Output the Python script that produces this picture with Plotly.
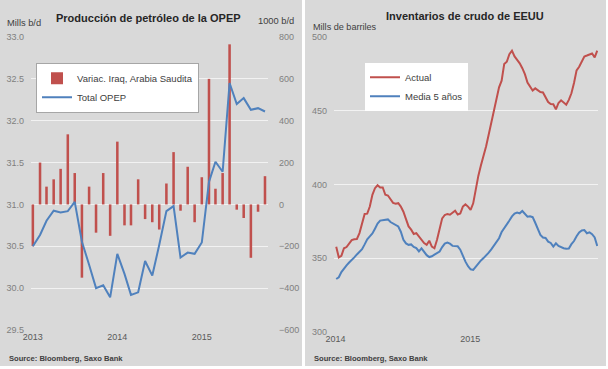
import pandas as pd
import plotly.graph_objects as go

# ---------------- Left chart data (monthly) ----------------
opep_months = pd.date_range("2013-01-01", periods=34, freq="MS")
variac_iraq_arabia = [-200, 200, 85, 120, 170, 335, 150, -350, 85, -135, 150, -150,
                      300, -100, -100, 120, -70, -85, -120, 100, 250, -30, 180, -85,
                      130, 600, 75, 150, 765, -25, -65, -255, -35, 135]
total_opep = [30.5, 30.635, 30.805, 30.925, 30.905, 30.92, 31.03, 30.555, 30.28, 30.0,
              30.035, 29.89, 30.41, 30.17, 29.92, 29.95, 30.325, 30.15, 30.515, 30.92,
              30.98, 30.365, 30.425, 30.41, 30.545, 31.27, 31.51, 31.39, 32.45, 32.2,
              32.27, 32.13, 32.15, 32.11]

# ---------------- Right chart data (weekly) ----------------
inv_weeks = pd.date_range("2014-01-03", periods=102, freq="7D")
actual = [357.7, 350.5, 351.5, 356.7, 357.5, 360, 362.2, 362.8, 363, 367,
          374, 380, 380.2, 385, 393, 397.5, 399.5, 398, 398, 393,
          392.5, 390, 387.5, 387, 387.3, 385, 381.5, 376.5, 371.5, 369.3,
          366.4, 367, 364.5, 362, 360.2, 359, 361.8, 357.8, 356.7, 362.5,
          371, 377, 379.3, 380, 379.5, 380.8, 382.2, 379.6, 380.3, 385,
          386.5, 385, 382.7, 387.2, 398, 406, 413, 419, 426, 434,
          441.5, 449, 458, 466, 470.5, 481.9, 483.4, 488.5, 490.9, 487,
          484.7, 482.3, 479, 475, 469.3, 466.5, 463.8, 465.3, 464, 462.8,
          462.5, 459, 456, 454.7, 454.5, 451.1, 455.4, 457.2, 455.8, 454.2,
          457.5, 462, 469, 477.5, 480, 483.7, 487, 487.6, 488.5, 489,
          486.4, 490.9]
media_5 = [335.8, 337, 340.5, 343.2, 345, 347, 348.5, 350.5, 352.5, 354,
           356, 359.3, 362.8, 364.8, 366.7, 370, 373.5, 375.5, 375.9, 375.9,
           376.3, 374.5, 373.5, 373, 371.5, 367.9, 362.5, 360, 359, 359.3,
           357.6, 356.8, 354.5, 356.6, 354.2, 352, 350.7, 351.2, 352.3, 353.5,
           354.5, 357.5, 359.8, 360.5, 359.8, 358.3, 358.2, 358, 355.7, 351,
           347.6, 344.5, 342.4, 342, 344.2, 346.3, 348.4, 350, 351.6, 353.7,
           355.9, 358.3, 360.7, 363.5, 367.7, 370.2, 372.4, 375.5, 378.3, 380.2,
           381, 380.4, 382, 379.8, 378.1, 378.4, 377.8, 374, 369.2, 365.8,
           364, 363.7, 361.2, 360.3, 357.8, 360, 358.2, 357.3, 356.7, 356.3,
           356.5, 359.5, 361.6, 364.8, 367.4, 368.7, 369, 366.9, 367.5, 366.3,
           364, 358.2]

W, H = 608, 369
RED = "#c0504d"
BLUE = "#4f81bd"
PANEL = "#d9d9d9"
GRID = "#f2f2f2"
FONT = "Liberation Sans, Arial, sans-serif"


def px(x):
    return x / W


def py(y):
    return (H - y) / H


fig = go.Figure()

fig.add_trace(go.Bar(
    x=opep_months, y=variac_iraq_arabia, name="Variac. Iraq, Arabia Saudita",
    marker=dict(color=RED, line=dict(width=0)), width=11 * 86400000,
    xaxis="x", yaxis="y", legend="legend"))
fig.add_trace(go.Scatter(
    x=opep_months, y=total_opep, name="Total OPEP", mode="lines",
    line=dict(color=BLUE, width=2), xaxis="x", yaxis="y2", legend="legend"))

fig.add_trace(go.Scatter(
    x=inv_weeks, y=actual, name="Actual", mode="lines",
    line=dict(color=RED, width=2), xaxis="x2", yaxis="y3", legend="legend2"))
fig.add_trace(go.Scatter(
    x=inv_weeks, y=media_5, name="Media 5 años", mode="lines",
    line=dict(color=BLUE, width=2), xaxis="x2", yaxis="y3", legend="legend2"))

tickfont_y = dict(family=FONT, size=9, color="#808080")
tickfont_x = dict(family=FONT, size=9, color="#595959")

fig.update_layout(
    width=W, height=H,
    margin=dict(l=0, r=0, t=0, b=0, pad=0),
    paper_bgcolor="white", plot_bgcolor="rgba(0,0,0,0)",
    font=dict(family=FONT, size=10, color="#404040"),
    barmode="overlay",
    hovermode=False,
    xaxis=dict(domain=[px(31), px(268)], range=["2012-12-24", "2015-10-14"],
               type="date", dtick="M12", tick0="2013-01-01", tickformat="%Y",
               showgrid=False, zeroline=False, showline=False, ticks="",
               tickfont=tickfont_x, anchor="y", automargin=False),
    yaxis=dict(domain=[py(330), py(37)], range=[-600, 800], dtick=200,
               side="right", showgrid=True, gridcolor=GRID, gridwidth=1,
               zeroline=False, showline=False, ticks="", tickfont=tickfont_y,
               anchor="x", ticklabelstandoff=10, automargin=False),
    yaxis2=dict(domain=[py(330), py(37)], range=[29.5, 33.0], dtick=0.5,
                tickformat=".1f", overlaying="y", side="left", showgrid=False,
                zeroline=False, showline=False, ticks="", tickfont=tickfont_y,
                anchor="x", ticklabelstandoff=6, automargin=False),
    xaxis2=dict(domain=[px(334), px(598)], range=["2013-12-28", "2015-12-13"],
                type="date", dtick="M12", tick0="2014-01-01", tickformat="%Y",
                showgrid=False, zeroline=False, showline=False, ticks="",
                tickfont=tickfont_x, anchor="y3", automargin=False),
    yaxis3=dict(domain=[py(331.7), py(37.3)], range=[300, 500], dtick=50,
                side="left", showgrid=True, gridcolor=GRID, gridwidth=1,
                zeroline=False, showline=False, ticks="", tickfont=tickfont_y,
                anchor="x2", ticklabelstandoff=6, automargin=False),
    legend=dict(x=px(36), y=py(62.7), xanchor="left", yanchor="top",
                bgcolor="white", bordercolor="#a6a6a6", borderwidth=1,
                font=dict(family=FONT, size=9.5, color="#404040"),
                traceorder="normal", itemwidth=30, tracegroupgap=0),
    legend2=dict(x=px(365), y=py(62.7), xanchor="left", yanchor="top",
                 bgcolor="white", borderwidth=0,
                 font=dict(family=FONT, size=9.5, color="#404040"),
                 traceorder="normal", itemwidth=30, tracegroupgap=0),
    showlegend=True,
)

# background panels
shapes = [
    dict(type="rect", xref="paper", yref="paper", x0=0, x1=px(302), y0=py(366), y1=1,
         fillcolor=PANEL, line=dict(width=0), layer="below"),
    dict(type="rect", xref="paper", yref="paper", x0=px(305), x1=px(606), y0=py(366), y1=1,
         fillcolor=PANEL, line=dict(width=0), layer="below"),
]
fig.update_layout(shapes=shapes)

ann = []
ann.append(dict(text="<b>Producción de petróleo de la OPEP</b>", x=px(148), y=py(18),
                xref="paper", yref="paper", showarrow=False, xanchor="center", yanchor="middle",
                font=dict(family=FONT, size=11, color="#262626")))
ann.append(dict(text="<b>Inventarios de crudo de EEUU</b>", x=px(465), y=py(16),
                xref="paper", yref="paper", showarrow=False, xanchor="center", yanchor="middle",
                font=dict(family=FONT, size=11, color="#262626")))
ann.append(dict(text="Mills b/d", x=px(5), y=py(23.5), xref="paper", yref="paper",
                showarrow=False, xanchor="left", yanchor="middle",
                font=dict(family=FONT, size=9.3, color="#404040")))
ann.append(dict(text="1000 b/d", x=px(296), y=py(20.5), xref="paper", yref="paper",
                showarrow=False, xanchor="right", yanchor="middle",
                font=dict(family=FONT, size=9.3, color="#404040")))
ann.append(dict(text="Mills de barriles", x=px(311), y=py(26.5), xref="paper", yref="paper",
                showarrow=False, xanchor="left", yanchor="middle",
                font=dict(family=FONT, size=9.1, color="#404040")))
ann.append(dict(text="<b>Source: Bloomberg, Saxo Bank</b>", x=px(7), y=py(358), xref="paper",
                yref="paper", showarrow=False, xanchor="left", yanchor="middle",
                font=dict(family=FONT, size=7.6, color="#404040")))
ann.append(dict(text="<b>Source: Bloomberg, Saxo Bank</b>", x=px(312), y=py(358), xref="paper",
                yref="paper", showarrow=False, xanchor="left", yanchor="middle",
                font=dict(family=FONT, size=7.6, color="#404040")))
fig.update_layout(annotations=ann)

fig.write_html("out.html", config={"displayModeBar": False},
               post_script="document.body.style.margin='0px';")
